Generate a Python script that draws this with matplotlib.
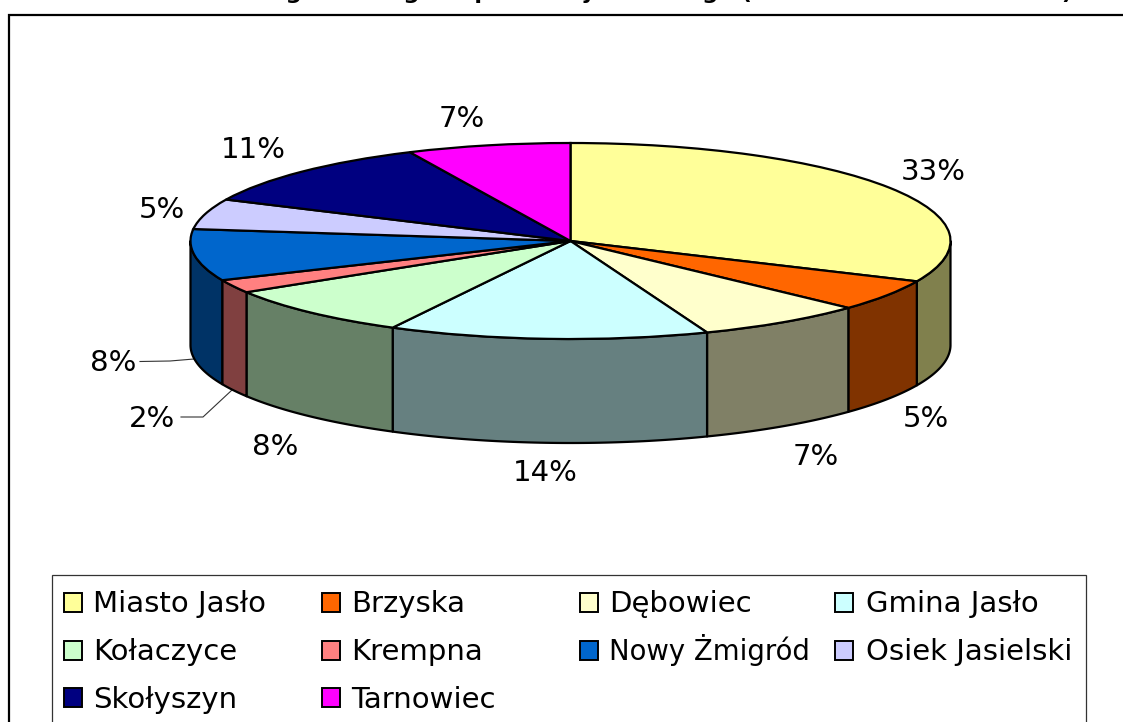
import numpy as np
import matplotlib
matplotlib.use("Agg")
import matplotlib.pyplot as plt
from matplotlib.patches import Polygon, Rectangle

categories = ["Miasto Jasło", "Brzyska", "Dębowiec", "Gmina Jasło", "Kołaczyce",
              "Krempna", "Nowy Żmigród", "Osiek Jasielski", "Skołyszyn", "Tarnowiec"]
shares = [31.75, 5.2, 7.2, 13.6, 8.5, 2.2, 8.5, 5.0, 11.1, 6.95]
share_labels = ["33%", "5%", "7%", "14%", "8%", "2%", "8%", "5%", "11%", "7%"]
top_colors = ["#ffff99", "#ff6600", "#ffffcc", "#ccffff", "#ccffcc",
              "#ff8080", "#0066cc", "#ccccff", "#000080", "#ff00ff"]
side_colors = ["#80804d", "#803300", "#808066", "#668080", "#668066",
               "#804040", "#003366", "#666680", "#000040", "#800080"]
title = "Bezrobotni według miast i gmin powiatu jasielskiego (stan na 31.12.2010 roku)"

W, H = 1123, 722
FS = 21.0
plt.rcParams["font.family"] = "DejaVu Sans"
fig = plt.figure(figsize=(W / 100, H / 100), dpi=100, facecolor="white")

# page-pixel layer
pg = fig.add_axes([0, 0, 1, 1], zorder=0)
pg.set_xlim(0, W)
pg.set_ylim(H, 0)
pg.axis("off")
pg.add_patch(Rectangle((9, 15), W + 20, H + 20, fc="white", ec="black", lw=1.6))
pg.text(1072, -1, title, ha="right", va="baseline", fontsize=16.2, fontweight="bold", color="black")

# legend
pg.add_patch(Rectangle((52, 575), 1034, H, fc="white", ec="#333333", lw=0.9))
col_x = [64, 322, 580, 835]
text_x = [93, 351, 609, 866]
row_y = [602, 650, 697.5]
for i, (name, color) in enumerate(zip(categories, top_colors)):
    r, c = divmod(i, 4)
    pg.add_patch(Rectangle((col_x[c], row_y[r] - 9.5), 18, 19, fc=color, ec="black", lw=1.4))
    size = 19.8 if name == "Nowy Żmigród" else FS
    pg.text(text_x[c], row_y[r] + 10, name, ha="left", va="baseline", fontsize=size, color="black")

# value labels
label_xy = [(933, 172), (926, 419), (816, 457), (545, 473), (275, 447),
            (152, 419), (113, 363), (162, 210), (253, 150), (462, 119)]
for s, (x, y) in zip(share_labels, label_xy):
    pg.text(x, y, s, ha="center", va="center", fontsize=FS, color="black")

# leader lines
pg.plot([140, 170, 194], [361.5, 361, 359], color="#333333", lw=0.8)
pg.plot([181, 203, 232], [417, 417, 390], color="#333333", lw=0.8)

# pie layer: unit circle maps on the projected ellipse
cx, cy, rx, ry, depth = 570.5, 241, 380, 98, 104
ax = fig.add_axes([(cx - rx) / W, 1 - (cy + ry) / H, 2 * rx / W, 2 * ry / H], zorder=1)
d = depth / ry
edges = 360 * np.concatenate([[0], np.cumsum(shares)]) / np.sum(shares)
for i in range(len(shares)):
    a, b = max(edges[i], 90), min(edges[i + 1], 270)
    if b <= a:
        continue
    t = np.radians(np.linspace(a, b, 60))
    x, y = np.sin(t), np.cos(t)
    pts = np.r_[np.c_[x, y], np.c_[x[::-1], y[::-1] - d]]
    ax.add_patch(Polygon(pts, closed=True, fc=side_colors[i], ec="black", lw=1.6,
                         joinstyle="round", clip_on=False, zorder=1))
wedges, _ = ax.pie(shares, colors=top_colors, startangle=90, counterclock=False, radius=1,
                   wedgeprops=dict(edgecolor="black", linewidth=1.6, clip_on=False, zorder=2))
ax.set_aspect("auto")
ax.set_xlim(-1, 1)
ax.set_ylim(-1, 1)
ax.axis("off")

fig.savefig("out.png", dpi=100)
